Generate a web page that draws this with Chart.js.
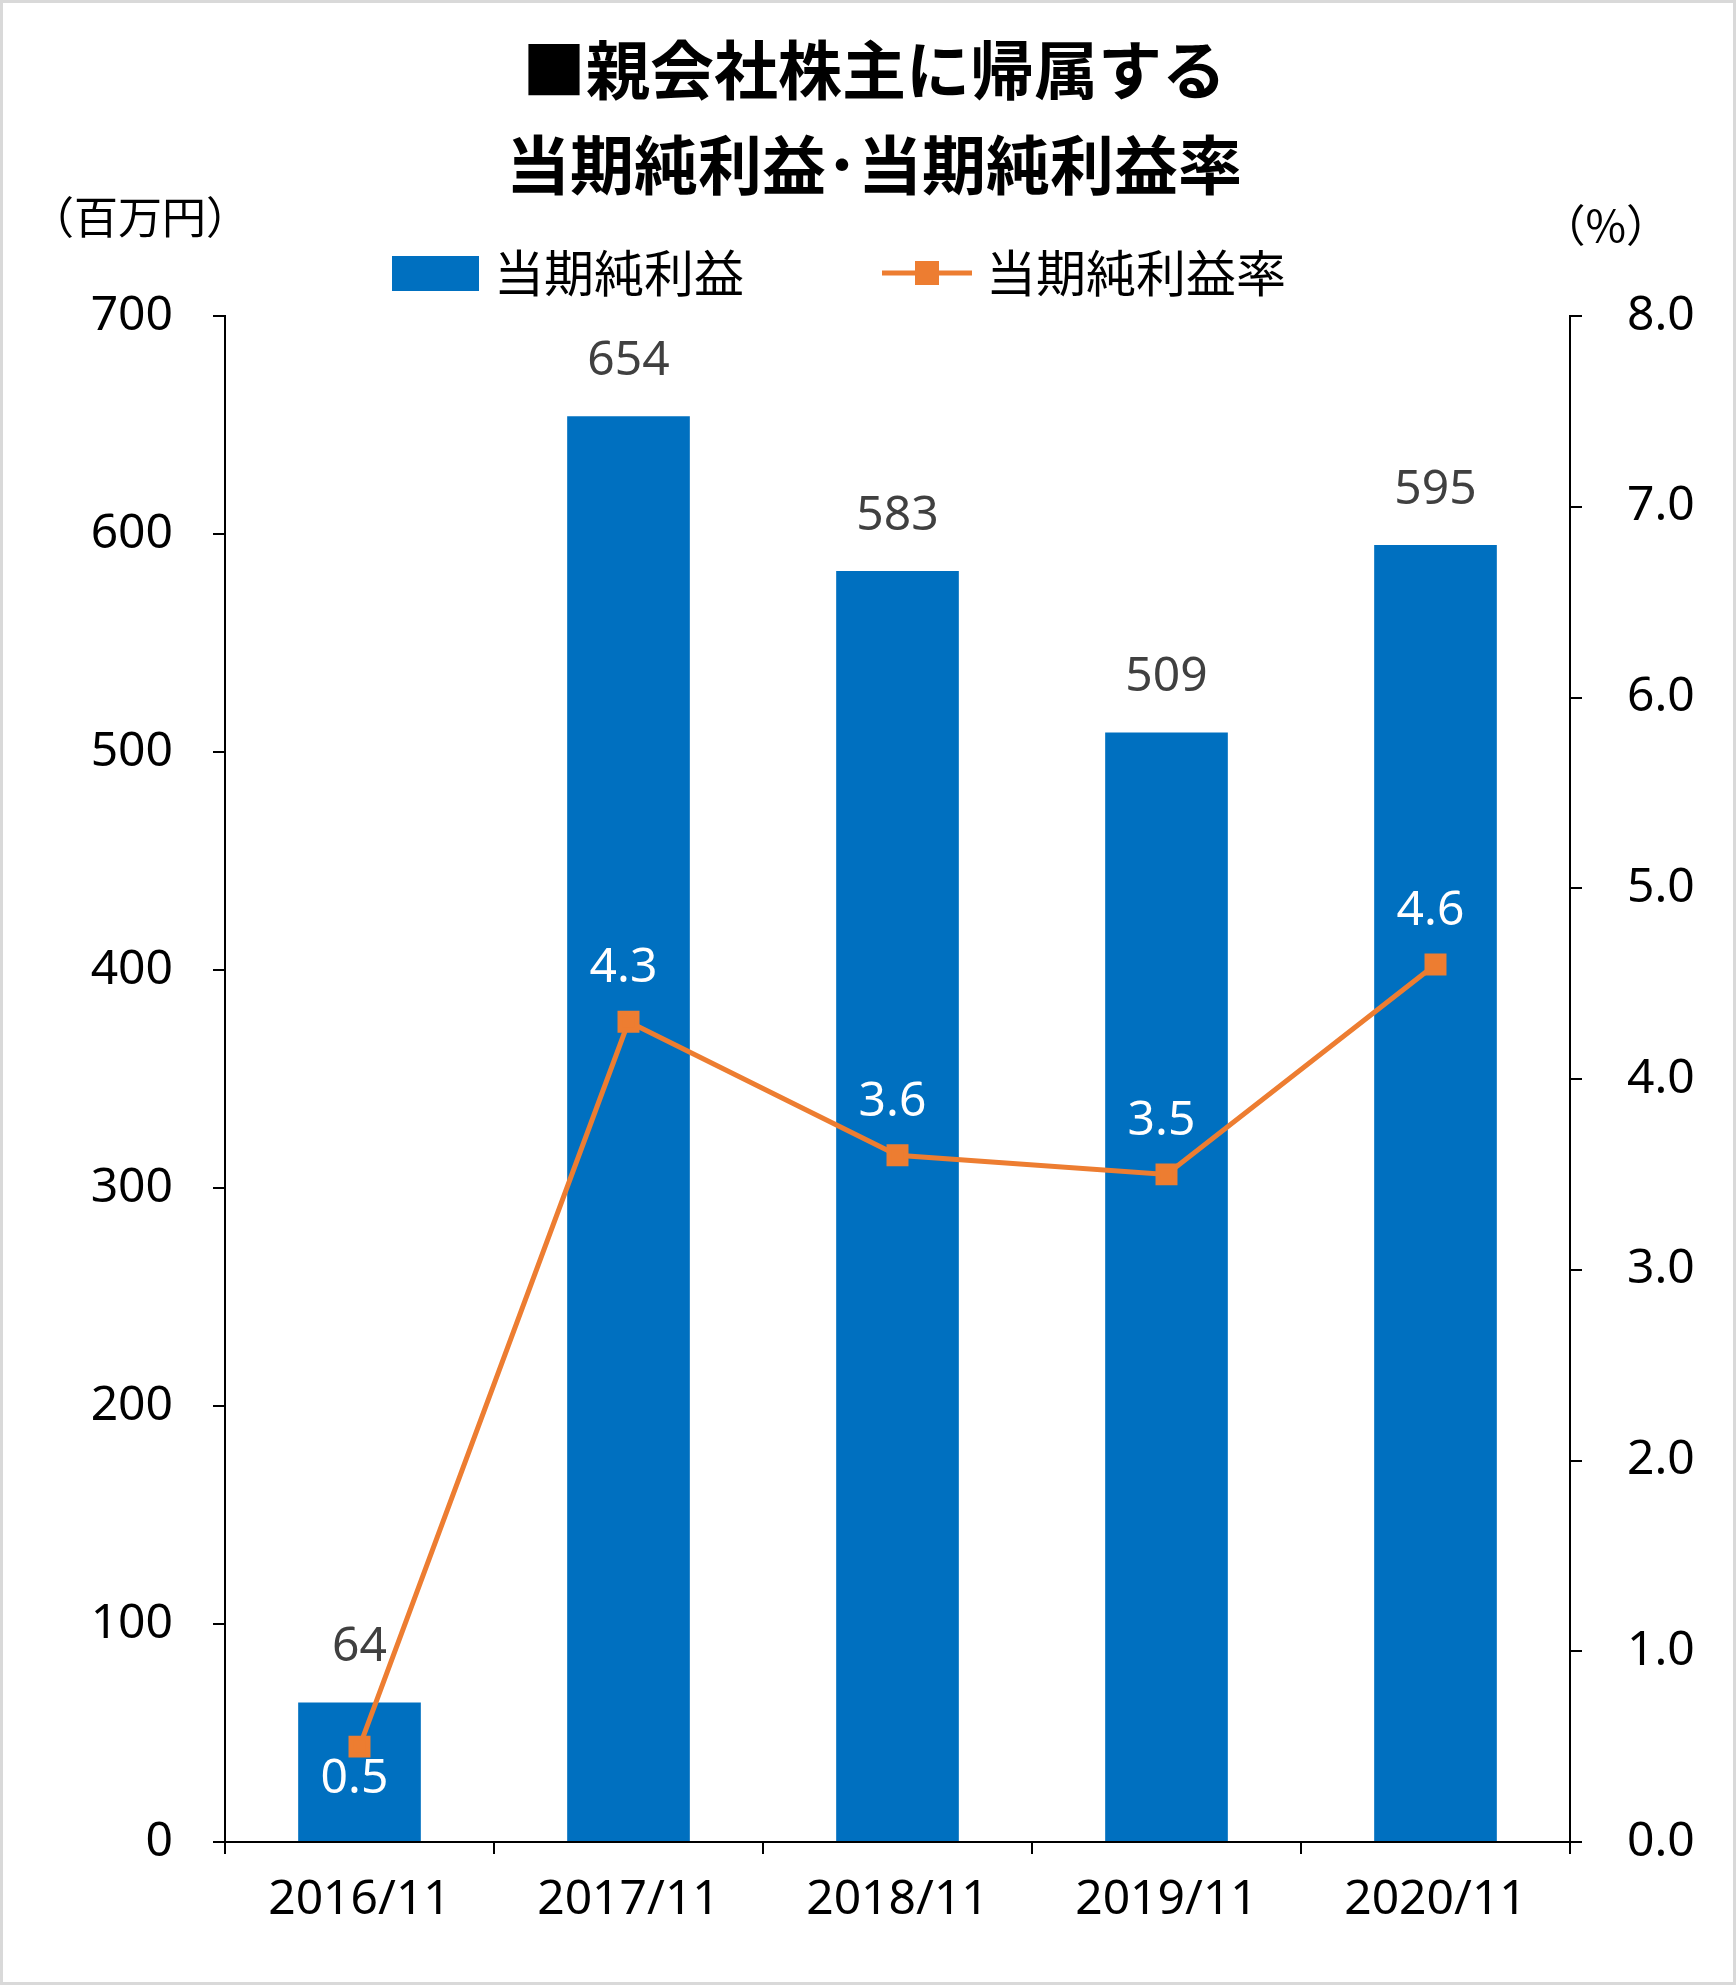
<!DOCTYPE html>
<html><head><meta charset="utf-8">
<script src="https://cdn.jsdelivr.net/npm/chart.js@4"></script>
<style>html,body{margin:0;padding:0;background:#fff}#wrap{width:1736px;height:1985px}</style>
</head><body><div id="wrap"><canvas id="c"></canvas></div>
<script>
const years = ['2016/11', '2017/11', '2018/11', '2019/11', '2020/11'];
const profit = [64, 654, 583, 509, 595];
const rate = [0.5, 4.3, 3.6, 3.5, 4.6];
const leftTicks = [0, 100, 200, 300, 400, 500, 600, 700];
const rightTicks = [0, 1, 2, 3, 4, 5, 6, 7, 8];

const NUM = '"Noto Sans", "Open Sans", sans-serif';
const JP = '"Noto Sans CJK JP", sans-serif';

const deco = {
    id: 'deco',
    afterDraw(chart) {
        const c = chart.ctx;
        c.save();
        c.strokeStyle = '#d9d9d9'; c.lineWidth = 3;
        c.strokeRect(1.5, 1.5, chart.width - 3, chart.height - 3);
        c.fillStyle = '#000'; c.textAlign = 'center'; c.textBaseline = 'middle';
        c.font = 'bold 64px ' + JP;
        c.fillText('■親会社株主に帰属する', 874, 70);
        c.fillText('当期純利益･当期純利益率', 874, 165);
        c.font = '44px ' + JP;
        c.textAlign = 'left'; c.fillText('（百万円）', 30, 217);
        c.textAlign = 'right'; c.fillText('（%）', 1670, 225);
        // legend
        c.fillStyle = '#0070C0'; c.fillRect(392, 256, 87, 35);
        c.fillStyle = '#000'; c.textAlign = 'left'; c.font = '50px ' + JP;
        c.fillText('当期純利益', 494, 273);
        c.strokeStyle = '#ED7D31'; c.lineWidth = 5;
        c.beginPath(); c.moveTo(882, 273); c.lineTo(972, 273); c.stroke();
        c.fillStyle = '#ED7D31'; c.fillRect(915, 261, 24, 24);
        c.fillStyle = '#000'; c.fillText('当期純利益率', 986, 273);
        // data labels
        c.textAlign = 'center'; c.font = '48px ' + NUM;
        chart.getDatasetMeta(0).data.forEach((b, i) => {
            c.fillStyle = '#404040';
            c.fillText(String(profit[i]), b.x, b.y - 55);
        });
        chart.getDatasetMeta(1).data.forEach((p, i) => {
            c.fillStyle = '#fff';
            c.fillText(rate[i].toFixed(1), p.x - 5, i === 0 ? p.y + 33 : p.y - 53);
        });
        c.restore();
    }
};

new Chart(document.getElementById('c'), {
    data: {
        labels: years,
        datasets: [{
            type: 'bar',
            label: '当期純利益',
            data: profit,
            backgroundColor: '#0070C0',
            barPercentage: 0.456,
            categoryPercentage: 1,
            yAxisID: 'y',
            order: 2
        }, {
            type: 'line',
            label: '当期純利益率',
            data: rate,
            borderColor: '#ED7D31',
            backgroundColor: '#ED7D31',
            borderWidth: 5,
            pointStyle: 'rect',
            pointRadius: 12,
            pointHoverRadius: 12,
            yAxisID: 'y1',
            order: 1
        }]
    },
    options: {
        responsive: true,
        maintainAspectRatio: false,
        animation: false,
        devicePixelRatio: 1,
        layout: { padding: { top: 316, left: 0, right: 0, bottom: 0 } },
        plugins: { legend: { display: false }, tooltip: { enabled: false } },
        scales: {
            x: {
                grid: { display: true, drawOnChartArea: false, offset: true, color: '#000', tickLength: 12, lineWidth: 2 },
                border: { color: '#000', width: 2 },
                ticks: { color: '#000', font: { family: NUM, size: 48 }, padding: 18 },
                afterFit(s) { s.height = 143; }
            },
            y: {
                position: 'left', min: 0, max: 700,
                afterBuildTicks(s) { s.ticks = leftTicks.map(v => ({ value: v })); },
                grid: { drawOnChartArea: false, color: '#000', tickLength: 12, lineWidth: 2 },
                border: { color: '#000', width: 2 },
                ticks: { color: '#000', font: { family: NUM, size: 48 }, padding: 40 },
                afterFit(s) { s.width = 225; }
            },
            y1: {
                position: 'right', min: 0, max: 8,
                afterBuildTicks(s) { s.ticks = rightTicks.map(v => ({ value: v })); },
                grid: { drawOnChartArea: false, color: '#000', tickLength: 12, lineWidth: 2 },
                border: { color: '#000', width: 2 },
                ticks: { color: '#000', font: { family: NUM, size: 48 }, padding: 45, callback: v => v.toFixed(1) },
                afterFit(s) { s.width = 166; }
            }
        }
    },
    plugins: [deco]
});
</script></body></html>
